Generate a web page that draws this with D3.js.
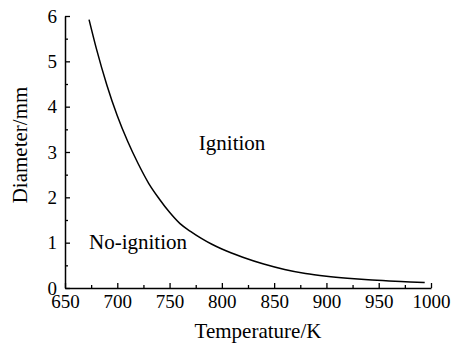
<!DOCTYPE html>
<html>
<head>
<meta charset="utf-8">
<script src="https://cdn.jsdelivr.net/npm/d3@7"></script>
<style>
  body { margin: 0; background: #fff; }
  text { font-family: "Liberation Serif", "Times New Roman", serif; fill: #000; }
</style>
</head>
<body>
<div class="chart"></div>
<script>
// critical diameter vs temperature
var temperature = [673, 680, 690, 700, 710, 720, 730, 740, 750, 760, 770, 780, 790, 800, 820, 840, 860, 880, 900, 920, 940, 960, 980, 994];
var diameter = [5.92, 5.28, 4.48, 3.80, 3.23, 2.74, 2.31, 1.97, 1.67, 1.42, 1.25, 1.10, 0.97, 0.86, 0.68, 0.53, 0.41, 0.32, 0.26, 0.215, 0.18, 0.155, 0.135, 0.12];
var xTicks = [650, 700, 750, 800, 850, 900, 950, 1000];
var yTicks = [0, 1, 2, 3, 4, 5, 6];

var svgWidth = 454;
var svgHeight = 346;
var margin = { top: 16, right: 23, bottom: 58, left: 65 };
var width = svgWidth - margin.left - margin.right;
var height = svgHeight - margin.top - margin.bottom;

var svg = d3.select(".chart")
  .append("svg")
  .attr("width", svgWidth)
  .attr("height", svgHeight);

var chart = svg.append("g")
  .attr("transform", "translate(" + margin.left + "," + margin.top + ")");

var xScale = d3.scaleLinear().domain([650, 1000]).range([0, width]);
var yScale = d3.scaleLinear().domain([0, 6]).range([height, 0]);

// minor ticks first (inward)
var xMinor = d3.range(675, 1000, 50);
var yMinor = d3.range(0.5, 6, 1);

chart.append("g")
  .attr("transform", "translate(0," + height + ")")
  .call(d3.axisBottom(xScale).tickValues(xMinor).tickSize(-3).tickFormat(""))
  .call(function(g) { g.select(".domain").remove(); g.selectAll("line").attr("stroke-width", 1.3); });

chart.append("g")
  .call(d3.axisLeft(yScale).tickValues(yMinor).tickSize(-3).tickFormat(""))
  .call(function(g) { g.select(".domain").remove(); g.selectAll("line").attr("stroke-width", 1.3); });

// major axes
var xAxis = chart.append("g")
  .attr("transform", "translate(0," + height + ")")
  .call(d3.axisBottom(xScale).tickValues(xTicks).tickFormat(d3.format("d"))
    .tickSizeInner(-5).tickSizeOuter(0).tickPadding(8));
xAxis.select(".domain").attr("stroke-width", 1.5);
xAxis.selectAll("line").attr("stroke-width", 1.3);
xAxis.selectAll("text").style("font-size", "19px").attr("dy", "0.71em").attr("y", 7);

var yAxis = chart.append("g")
  .call(d3.axisLeft(yScale).tickValues(yTicks).tickFormat(d3.format("d"))
    .tickSizeInner(-5).tickSizeOuter(0).tickPadding(8));
yAxis.select(".domain").attr("stroke-width", 1.5);
yAxis.selectAll("line").attr("stroke-width", 1.3);
yAxis.selectAll("text").style("font-size", "19px").attr("x", -8);

// curve
var line = d3.line()
  .x(function(d, i) { return xScale(temperature[i]); })
  .y(function(d, i) { return yScale(diameter[i]); })
  .curve(d3.curveMonotoneX);

chart.append("path")
  .datum(diameter)
  .attr("fill", "none")
  .attr("stroke", "#000")
  .attr("stroke-width", 1.5)
  .attr("d", line);

// region labels
chart.append("text")
  .attr("x", xScale(778))
  .attr("y", yScale(3.05))
  .style("font-size", "21px")
  .text("Ignition");

chart.append("text")
  .attr("x", xScale(673))
  .attr("y", yScale(0.85))
  .style("font-size", "21px")
  .text("No-ignition");

// axis titles
svg.append("text")
  .attr("x", 258)
  .attr("y", 338)
  .attr("text-anchor", "middle")
  .style("font-size", "21px")
  .text("Temperature/K");

svg.append("text")
  .attr("transform", "rotate(-90)")
  .attr("x", -145)
  .attr("y", 26.5)
  .attr("text-anchor", "middle")
  .style("font-size", "21px")
  .text("Diameter/mm");
</script>
</body>
</html>
